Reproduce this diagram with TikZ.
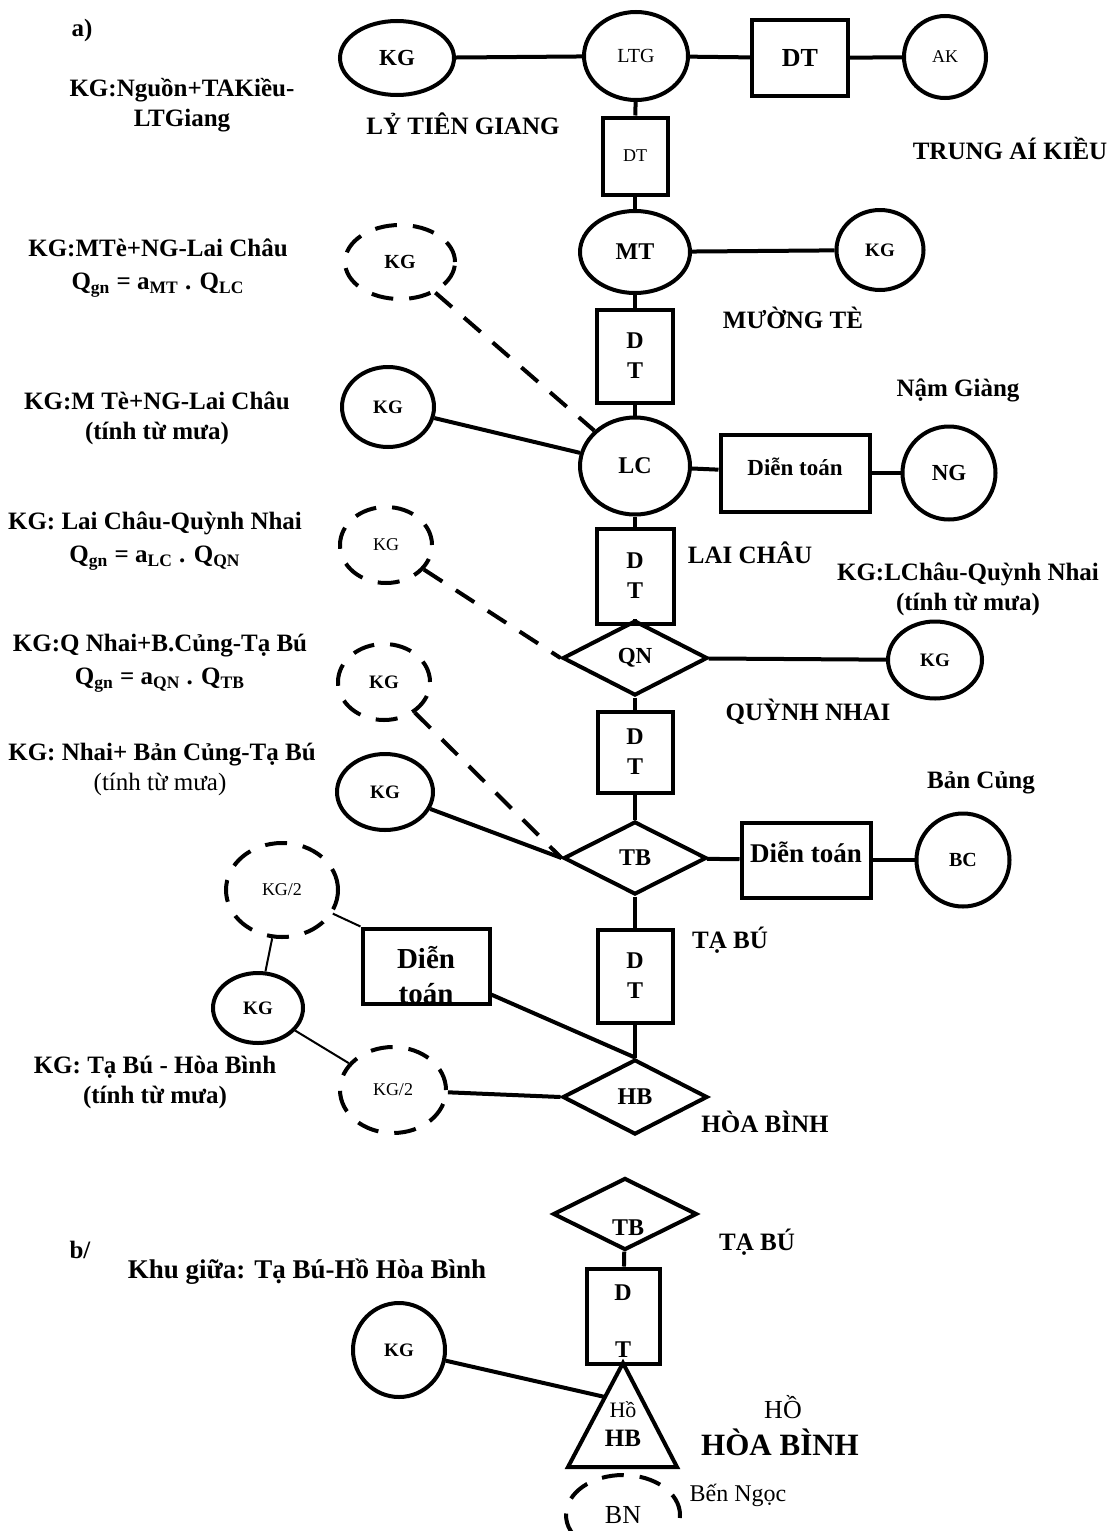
\documentclass[tikz,border=0pt]{standalone}
\usepackage{fontspec}
\setmainfont{Liberation Serif}
\usetikzlibrary{shapes.geometric}
\begin{document}
\begin{tikzpicture}[x=0.5pt,y=-0.5pt,
  el/.style={ellipse,draw,line width=2pt,inner sep=0pt},
  dsh/.style={dash pattern=on 11pt off 8pt},
  bx/.style={rectangle,draw,line width=2pt,inner sep=0pt,align=center},
  dia/.style={diamond,draw,line width=2pt,inner sep=0pt},
  con/.style={line width=2pt},
  thinc/.style={line width=1pt},
  fbold/.style={font=\fontsize{#1}{15}\selectfont\bfseries},
  freg/.style={font=\fontsize{#1}{15}\selectfont},
  lab/.style={inner sep=0pt,align=center}]
\fill[white] (0,0) rectangle (1108,1531);
\useasboundingbox (0,0) rectangle (1108,1531);

% ---------- part a: main chain ----------
\node[el,minimum width=57pt,minimum height=37pt,fbold=11.5] (kgA) at (397,58) {KG};
\node[el,minimum width=52pt,minimum height=44pt,freg=10] (ltg) at (636,56) {LTG};
\node[bx,minimum width=48pt,minimum height=38pt,fbold=13] (dtA) at (800,58) {DT};
\node[el,minimum width=41pt,minimum height=41pt,freg=9] (ak) at (945,57) {AK};
\node[bx,minimum width=32.5pt,minimum height=38.5pt,freg=9] (dtB) at (635,156) {DT};
\node[el,minimum width=55pt,minimum height=41pt,fbold=12] (mt) at (635,252) {MT};
\node[el,minimum width=43.5pt,minimum height=40pt,fbold=9.5] (kgB) at (880,250) {KG};
\node[bx,minimum width=38pt,minimum height=46.5pt,fbold=12] (dtC) at (635,356) {D\\T};
\node[el,minimum width=55pt,minimum height=48.5pt,fbold=12] (lc) at (635,466) {LC};
\node[bx,minimum width=74.5pt,minimum height=38.5pt] (dtLC) at (795,473) {};
\node[lab,fbold=11.5] (dtLCt) at (795,467) {Diễn toán};
\node[el,minimum width=46.5pt,minimum height=46.5pt,fbold=11.5] (ng) at (949,473) {NG};
\node[bx,minimum width=38.5pt,minimum height=47.5pt,fbold=12] (dtD) at (635,576) {D\\T};
\node[dia,minimum width=72.5pt,minimum height=37.5pt,fbold=11.5] (qn) at (635,658) {QN};
\node[el,minimum width=47pt,minimum height=38.5pt,fbold=9.5] (kgC) at (935,660) {KG};
\node[bx,minimum width=37.5pt,minimum height=40.5pt,fbold=12] (dtE) at (635,752) {D\\T};
\node[dia,minimum width=71.5pt,minimum height=36.5pt,fbold=12] (tb) at (635,858) {TB};
\node[bx,minimum width=64.5pt,minimum height=37.5pt] (dtTB) at (806,860) {};
\node[lab,fbold=13.5] (dtTBt) at (806,852) {Diễn toán};
\node[el,minimum width=46.5pt,minimum height=46.5pt,fbold=10] (bc) at (963,860) {BC};
\node[bx,minimum width=37.5pt,minimum height=46.5pt,fbold=12] (dtF) at (635,976) {D\\T};
\node[dia,minimum width=72.5pt,minimum height=37.5pt,fbold=12] (hb) at (635,1097) {HB};

% ---------- part a: left side ----------
\node[el,dsh,minimum width=55pt,minimum height=37pt,fbold=10] (kgD) at (400,262) {KG};
\node[el,minimum width=46pt,minimum height=40pt,fbold=9.5] (kgE) at (388,407) {KG};
\node[el,dsh,minimum width=46pt,minimum height=38pt,freg=9] (kgF) at (386,545) {KG};
\node[el,dsh,minimum width=46pt,minimum height=38pt,fbold=9.5] (kgG) at (384,682) {KG};
\node[el,minimum width=48pt,minimum height=38pt,fbold=9.5] (kgH) at (385,792) {KG};
\node[el,dsh,minimum width=56pt,minimum height=47pt,freg=9] (kgHa) at (282,890) {KG/2};
\node[bx,minimum width=63.5pt,minimum height=37.5pt] (dtL) at (426,966) {};
\node[lab,fbold=14.5] (dtLt) at (426,975) {Diễn\\[2.5pt]toán};
\node[el,minimum width=45pt,minimum height=35pt,fbold=9.5] (kgI) at (258,1008) {KG};
\node[el,dsh,minimum width=53pt,minimum height=43pt,freg=9] (kgHb) at (393,1090) {KG/2};

% chain connectors
\draw[con] (kgA) -- (ltg);
\draw[con] (ltg) -- (dtA);
\draw[con] (dtA) -- (ak);
\draw[con] (ltg) -- (dtB);
\draw[con] (dtB) -- (mt);
\draw[con] (mt) -- (kgB);
\draw[con] (mt) -- (dtC);
\draw[con] (dtC) -- (lc);
\draw[con] (lc) -- (dtLC);
\draw[con] (dtLC) -- (ng);
\draw[con] (lc) -- (dtD);
\draw[con] (dtD) -- (qn);
\draw[con] (qn) -- (kgC);
\draw[con] (qn) -- (dtE);
\draw[con] (dtE) -- (tb);
\draw[con] (tb) -- (dtTB);
\draw[con] (dtTB) -- (bc);
\draw[con] (tb) -- (dtF);
\draw[con] (dtF) -- (hb);

% left connectors
\draw[con,dsh] (kgD) -- (lc);
\draw[con] (kgE) -- (lc);
\draw[con,dsh] (kgF) -- (qn.west);
\draw[con,dsh] (kgG) -- (tb.west);
\draw[con] (kgH) -- (tb.west);
\draw[thinc] (kgHa) -- (dtL.north west);
\draw[thinc] (kgHa) -- (kgI);
\draw[thinc] (kgI) -- (kgHb);
\draw[con] (dtL) -- (hb.north);
\draw[con] (kgHb) -- (hb.west);

% labels part a
\node[lab,fbold=12.5] (la) at (82,30) {a)};
\node[lab,fbold=12.5] (l1) at (182,105) {KG:Nguồn+TAKiều-\\LTGiang};
\node[lab,fbold=12.5] (l2) at (463,124) {LỶ TIÊN GIANG};
\node[lab,fbold=12.5] (l3) at (1010,148) {TRUNG AÍ KIỀU};
\node[lab,fbold=12.5] (l4) at (793,318) {MƯỜNG TÈ};
\node[lab,fbold=12.5] (l5) at (158,268) {KG:MTè+NG-Lai Châu\\[1.5pt]Q\textsubscript{gn} = a\textsubscript{MT} . Q\textsubscript{LC}};
\node[lab,fbold=12.5] (l6) at (157,418) {KG:M Tè+NG-Lai Châu\\(tính từ mưa)};
\node[lab,fbold=12.5] (l7) at (958,390) {Nậm Giàng};
\node[lab,fbold=12.5] (l8) at (750,553) {LAI CHÂU};
\node[lab,fbold=12.5] (l9) at (155,541) {KG: Lai Châu-Quỳnh Nhai\\[1.5pt]Q\textsubscript{gn} = a\textsubscript{LC} . Q\textsubscript{QN}};
\node[lab,fbold=12.5] (l10) at (968,589) {KG:LChâu-Quỳnh Nhai\\(tính từ mưa)};
\node[lab,fbold=12.5] (l11) at (808,712) {QUỲNH NHAI};
\node[lab,fbold=12.5] (l12) at (160,663) {KG:Q Nhai+B.Củng-Tạ Bú\\[1.5pt]Q\textsubscript{gn} = a\textsubscript{QN} . Q\textsubscript{TB}};
\node[lab,fbold=12.5] (l13) at (162,755) {KG: Nhai+ Bản Củng-Tạ Bú};
\node[lab,freg=12.5] (l14) at (160,784) {(tính từ mưa)};
\node[lab,fbold=12.5] (l15) at (981,783) {Bản Củng};
\node[lab,fbold=12.5] (l16) at (730,940) {TẠ BÚ};
\node[lab,fbold=12.5] (l17) at (155,1082) {KG: Tạ Bú - Hòa Bình\\(tính từ mưa)};
\node[lab,fbold=12.5] (l18) at (765,1122) {HÒA BÌNH};

% ---------- part b ----------
\node[lab,fbold=12.5] (lb) at (80,1250) {b/};
\node[lab,fbold=13.5] (lkhu) at (307,1272) {Khu giữa: Tạ Bú-Hồ Hòa Bình};
\node[dia,minimum width=72pt,minimum height=36pt] (tb2) at (625,1214) {};
\node[lab,fbold=12] (tb2t) at (628,1228) {TB};
\node[lab,fbold=12.5] (l19) at (757,1242) {TẠ BÚ};
\node[bx,minimum width=36.5pt,minimum height=47.5pt] (dtG) at (623,1316) {};
\node[lab,fbold=12] (dtGd) at (623,1293) {D};
\node[lab,fbold=12] (dtGt) at (623,1350) {T};
\draw[con] (tb2) -- (dtG);
\coordinate (apex) at (623,1363);
\coordinate (triBL) at (568,1467);
\coordinate (triBR) at (677,1467);
\coordinate (triL) at (605,1397);
\draw[con] (apex) -- (triBL) -- (triBR) -- cycle;
\node[lab,freg=11] (tho) at (623,1410) {Hồ};
\node[lab,fbold=12.5] (thb) at (623,1438) {HB};
\node[el,minimum width=46pt,minimum height=47pt,fbold=9.5] (kgJ) at (399,1350) {KG};
\draw[con] (kgJ) -- (triL);
\node[lab,freg=13] (l20) at (783,1407) {HỒ};
\node[lab,fbold=15.5] (l21) at (780,1442) {HÒA BÌNH};
\node[el,dsh,minimum width=57pt,minimum height=40pt,freg=13] (bn) at (623,1515) {BN};
\node[lab,freg=12] (l22) at (738,1495) {Bến Ngọc};
\end{tikzpicture}
\end{document}
